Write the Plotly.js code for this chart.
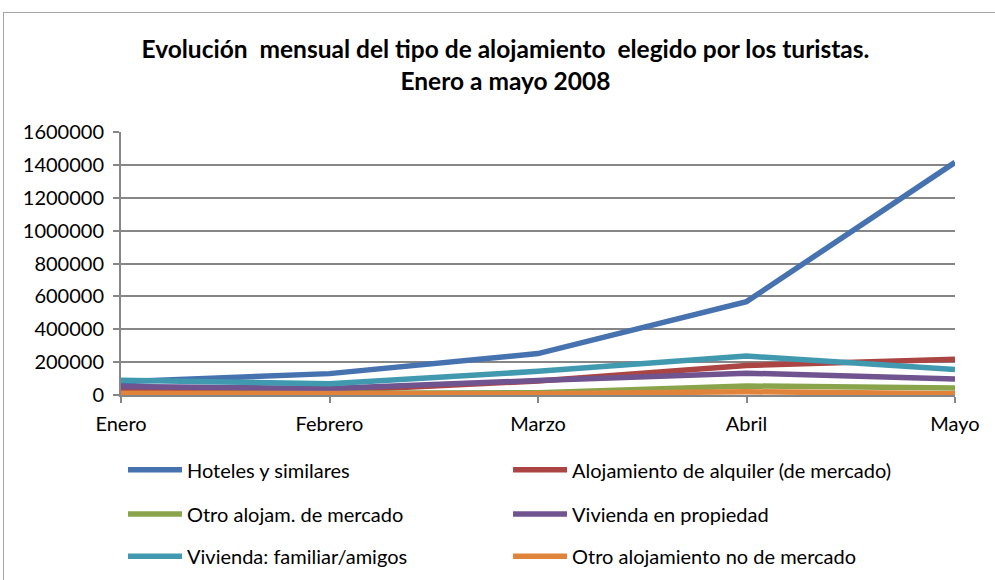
<!DOCTYPE html>
<html>
<head>
<meta charset="utf-8">
<script src="https://cdn.plot.ly/plotly-3.0.1.min.js"></script>
<style>
  html, body { margin: 0; padding: 0; background: #fff; overflow: hidden; }
  #frame { position: absolute; left: 3px; top: 12px; width: 1100px; height: 700px; border: 1px solid #a6a6a6; box-sizing: border-box; }
  #chart { position: absolute; left: 0; top: 0; width: 995px; height: 580px; }
</style>
</head>
<body>
<div id="frame"></div>
<div id="chart"></div>
<script>
const months = ["Enero", "Febrero", "Marzo", "Abril", "Mayo"];
const seriesNames = [
  "Hoteles y similares",
  "Alojamiento de alquiler (de mercado)",
  "Otro alojam. de mercado",
  "Vivienda en propiedad",
  "Vivienda: familiar/amigos",
  "Otro alojamiento no de mercado"
];
const hoteles    = [80000, 130000, 252000, 568000, 1415000];
const alquiler   = [30000, 25000, 85000, 180000, 218000];
const otroMerc   = [6000, 6000, 14000, 55000, 43000];
const propiedad  = [52000, 40000, 88000, 133000, 97000];
const familiar   = [90000, 68000, 144000, 237000, 155000];
const otroNoMerc = [10000, 10000, 8000, 20000, 8000];
const yTicks = [0, 200000, 400000, 600000, 800000, 1000000, 1200000, 1400000, 1600000];

const seriesValues = [hoteles, alquiler, otroMerc, propiedad, familiar, otroNoMerc];
const colors = ["#4672B0", "#AA4543", "#89A44B", "#70548F", "#4199B0", "#E0843C"];
const legendIds = ["legend", "legend2", "legend3", "legend4", "legend5", "legend6"];

const FONT = "Lato, 'Open Sans', sans-serif";

const traces = seriesValues.map((vals, i) => ({
  type: "scatter",
  mode: "lines",
  x: months,
  y: vals,
  name: seriesNames[i],
  line: { color: colors[i], width: 5.5 },
  legend: legendIds[i],
  hoverinfo: "x+y+name"
}));

function legendAt(xc, yc) {
  return {
    orientation: "h",
    xref: "container",
    yref: "container",
    x: xc,
    y: yc,
    xanchor: "left",
    yanchor: "middle",
    itemwidth: 54,
    font: { family: FONT, size: 20, color: "#000" },
    bgcolor: "rgba(0,0,0,0)"
  };
}

const layout = {
  width: 995,
  height: 580,
  margin: { l: 121, r: 40, t: 132, b: 185, autoexpand: false },
  paper_bgcolor: "rgba(0,0,0,0)",
  plot_bgcolor: "rgba(0,0,0,0)",
  title: {
    text: "<b>Evolución  mensual del tipo de alojamiento  elegido por los turistas.</b><br><b>Enero a mayo 2008</b>",
    font: { family: FONT, size: 24.5, color: "#000" },
    x: 0.508,
    xanchor: "center",
    y: 0.9,
    yanchor: "middle"
  },
  xaxis: {
    type: "category",
    range: [0, 4],
    showgrid: false,
    showline: true,
    linecolor: "#868686",
    linewidth: 2,
    ticks: "outside",
    ticklen: 6,
    tickwidth: 2,
    tickcolor: "#868686",
    ticklabelstandoff: 4,
    tickfont: { family: FONT, size: 20, color: "#000" },
    fixedrange: true,
    zeroline: false,
    automargin: false
  },
  yaxis: {
    range: [0, 1600000],
    tickvals: yTicks,
    ticktext: yTicks.map(v => String(v)),
    showgrid: true,
    gridcolor: "#868686",
    gridwidth: 2,
    showline: true,
    linecolor: "#868686",
    linewidth: 2,
    ticks: "outside",
    ticklen: 6,
    tickwidth: 2,
    tickcolor: "#868686",
    ticklabelstandoff: 5,
    tickfont: { family: FONT, size: 20, color: "#000" },
    zeroline: false,
    fixedrange: true,
    automargin: false
  },
  legend:  legendAt(0.1236, 0.190),
  legend2: legendAt(0.5106, 0.190),
  legend3: legendAt(0.1236, 0.114),
  legend4: legendAt(0.5106, 0.114),
  legend5: legendAt(0.1236, 0.041),
  legend6: legendAt(0.5106, 0.041),
  showlegend: true
};

Plotly.newPlot("chart", traces, layout, { displayModeBar: false });
</script>
</body>
</html>
